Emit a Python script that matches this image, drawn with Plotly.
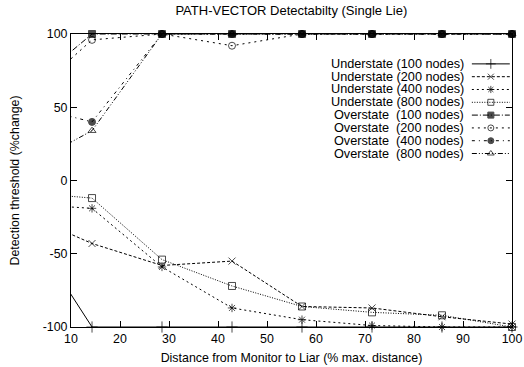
import plotly.graph_objects as go

x = [0, 14.29, 28.57, 42.86, 57.14, 71.43, 85.71, 100]

under_100 = [-26, -100, -100, -100, -100, -100, -100, -100]
under_200 = [-22, -43, -58, -55, -86, -87, -93, -98]
under_400 = [-16, -19, -59, -87, -95, -99, -100, -100]
under_800 = [-8, -12, -54, -72, -86, -90, -92, -100]
over_100 = [60, 100, 100, 100, 100, 100, 100, 100]
over_200 = [53, 96, 100, 92, 100, 100, 100, 100]
over_400 = [52, 40, 100, 100, 100, 100, 100, 100]
over_800 = [8, 34, 100, 100, 100, 100, 100, 100]

names = ["Understate (100 nodes)", "Understate (200 nodes)", "Understate (400 nodes)",
         "Understate (800 nodes)", "Overstate\u00a0 (100 nodes)", "Overstate\u00a0 (200 nodes)",
         "Overstate\u00a0 (400 nodes)", "Overstate\u00a0 (800 nodes)"]
series = [under_100, under_200, under_400, under_800, over_100, over_200, over_400, over_800]
symbols = ["cross-thin-open", "x-thin-open", "asterisk-open", "square-open",
           "square", "circle-open", "circle", "triangle-up-open"]
sizes = [8, 7, 7, 7, 7, 7, 7, 7]
dashes = ["solid", "3px,2px", "2px,3px", "1px,1.5px", "6px,2px,1px,2px",
          "2px,4px", "3px,4px,1px,4px", "5px,2px,1px,2px,1px,2px"]

fig = go.Figure()
for nm, ys, sym, sz, ds in zip(names, series, symbols, sizes, dashes):
    msize = [0 if xv < 10 else sz for xv in x]
    fig.add_trace(go.Scatter(
        x=x, y=ys, mode="lines+markers", name=nm, showlegend=False,
        line=dict(color="black", width=1, dash=ds),
        marker=dict(symbol=sym, size=msize, color="black", line=dict(color="black", width=1)),
        cliponaxis=False))

# manual legend (text left of sample)
lx0, lx1 = 0.909, 0.995
ly0, dy = 0.898, 0.0437
for i, (nm, sym, sz, ds) in enumerate(zip(names, symbols, sizes, dashes)):
    yy = ly0 - i * dy
    fig.add_trace(go.Scatter(
        x=[lx0, (lx0 + lx1) / 2, lx1], y=[yy, yy, yy], xaxis="x2", yaxis="y2",
        mode="lines+markers", showlegend=False, hoverinfo="skip",
        line=dict(color="black", width=1, dash=ds),
        marker=dict(symbol=sym, size=[0, sz - 1, 0], color="black", line=dict(color="black", width=1))))
    fig.add_annotation(x=0.896, y=yy, xref="paper", yref="paper", text=nm,
                       showarrow=False, xanchor="right", yanchor="middle",
                       font=dict(size=12.7, color="black"))

axis_common = dict(showline=True, linecolor="black", linewidth=1, mirror="ticks",
                   ticks="inside", ticklen=6, tickcolor="black", showgrid=False,
                   zeroline=False, tickfont=dict(size=12.4, color="black"), automargin=False)

fig.update_layout(
    width=524, height=367,
    margin=dict(l=71, r=12, t=34, b=40),
    paper_bgcolor="white", plot_bgcolor="white",
    font=dict(family="Liberation Sans, Arial, sans-serif", size=12, color="black"),
    title=dict(text="PATH-VECTOR Detectabilty (Single Lie)", x=0.556, xanchor="center",
               y=0.972, yanchor="middle", font=dict(size=13, color="black")),
    xaxis=dict(range=[10, 100], tickvals=[10, 20, 30, 40, 50, 60, 70, 80, 90, 100],
               title=dict(text="Distance from Monitor to Liar (% max. distance)",
                          font=dict(size=12.4), standoff=8), **axis_common),
    yaxis=dict(range=[-100, 100], tickvals=[-100, -50, 0, 50, 100],
               ticktext=["-100", "-50", "0", "50", "100"],
               title=dict(text="Detection threshold (%change)", font=dict(size=12.4), standoff=20),
               **axis_common),
    xaxis2=dict(range=[0, 1], overlaying="x", visible=False),
    yaxis2=dict(range=[0, 1], overlaying="y", visible=False),
)

fig.write_html("out.html")
